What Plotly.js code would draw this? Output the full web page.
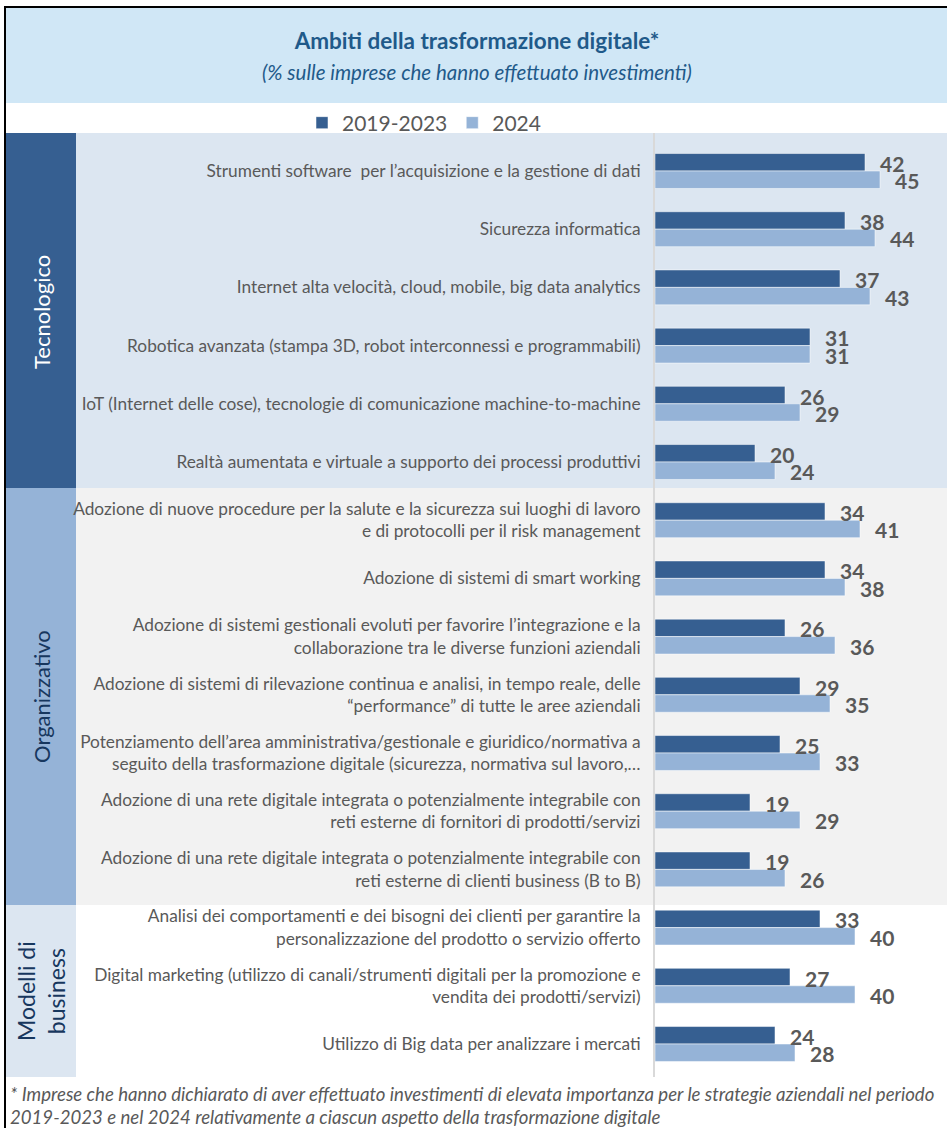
<!DOCTYPE html>
<html>
<head>
<meta charset="utf-8">
<script src="https://cdn.plot.ly/plotly-3.0.1.min.js"></script>
<style>html,body{margin:0;padding:0;background:#fff;}#chart{width:947px;height:1128px;}</style>
</head>
<body>
<div id="chart"></div>
<script>
const categories = [
  "Strumenti software  per l’acquisizione e la gestione di dati",
  "Sicurezza informatica",
  "Internet alta velocità, cloud, mobile, big data analytics",
  "Robotica avanzata (stampa 3D, robot interconnessi e programmabili)",
  "IoT (Internet delle cose), tecnologie di comunicazione machine-to-machine",
  "Realtà aumentata e virtuale a supporto dei processi produttivi",
  "Adozione di nuove procedure per la salute e la sicurezza sui luoghi di lavoro<br>e di protocolli per il risk management",
  "Adozione di sistemi di smart working",
  "Adozione di sistemi gestionali evoluti per favorire l’integrazione e la<br>collaborazione tra le diverse funzioni aziendali",
  "Adozione di sistemi di rilevazione continua e analisi, in tempo reale, delle<br>“performance” di tutte le aree aziendali",
  "Potenziamento dell’area amministrativa/gestionale e giuridico/normativa a<br>seguito della trasformazione digitale (sicurezza, normativa sul lavoro,…",
  "Adozione di una rete digitale integrata o potenzialmente integrabile con<br>reti esterne di fornitori di prodotti/servizi",
  "Adozione di una rete digitale integrata o potenzialmente integrabile con<br>reti esterne di clienti business (B to B)",
  "Analisi dei comportamenti e dei bisogni dei clienti per garantire la<br>personalizzazione del prodotto o servizio offerto",
  "Digital marketing (utilizzo di canali/strumenti digitali per la promozione e<br>vendita dei prodotti/servizi)",
  "Utilizzo di Big data per analizzare i mercati"
];
const values2019_2023 = [42, 38, 37, 31, 26, 20, 34, 34, 26, 29, 25, 19, 19, 33, 27, 24];
const values2024      = [45, 44, 43, 31, 29, 24, 41, 38, 36, 35, 33, 29, 26, 40, 40, 28];
const seriesNames = ["2019-2023", "2024"];
const groups = ["Tecnologico", "Organizzativo", "Modelli di<br>business"];

const W = 947, H = 1128;
const X = p => p / W;
const Y = p => 1 - p / H;
const idx = categories.map((_, i) => i);

const FONT = "Lato, 'Open Sans', sans-serif";
const GRAY = "#595959";
const DARK = "#365f91";
const LIGHT = "#95b3d7";

const traces = [
  {type: "bar", orientation: "h", name: seriesNames[0], y: idx, x: values2019_2023,
   marker: {color: DARK, line: {color: "rgba(255,255,255,0.5)", width: 1}}, hoverinfo: "x"},
  {type: "bar", orientation: "h", name: seriesNames[1], y: idx, x: values2024,
   marker: {color: LIGHT, line: {color: "rgba(255,255,255,0.5)", width: 1}}, hoverinfo: "x"}
];

const annotations = [];
const valueSets = [values2019_2023, values2024];
valueSets.forEach((vals, s) => {
  vals.forEach((v, i) => {
    annotations.push({
      x: v, y: i + (s === 0 ? -0.15 : 0.15), xref: "x", yref: "y",
      text: "<b>" + v + "</b>", showarrow: false, xanchor: "left", yanchor: "middle",
      xshift: 14, yshift: -1, borderpad: 0,
      font: {family: FONT, size: 21, color: GRAY}
    });
  });
});

annotations.push({x: X(477), y: Y(72), xref: "paper", yref: "paper", showarrow: false,
  text: "<i>(% sulle imprese che hanno effettuato investimenti)</i>",
  font: {family: FONT, size: 20.5, color: "#1f5a8a"}, xanchor: "center", yanchor: "middle"});

annotations.push({x: X(41), y: Y(312), xref: "paper", yref: "paper", showarrow: false,
  xanchor: "center", yanchor: "middle",
  text: groups[0], textangle: -90, font: {family: FONT, size: 22, color: "#ffffff"}});
annotations.push({x: X(41), y: Y(697), xref: "paper", yref: "paper", showarrow: false,
  xanchor: "center", yanchor: "middle",
  text: groups[1], textangle: -90, font: {family: FONT, size: 22, color: "#17375e"}});
annotations.push({x: X(41), y: Y(991), xref: "paper", yref: "paper", showarrow: false,
  xanchor: "center", yanchor: "middle",
  text: groups[2], textangle: -90, font: {family: FONT, size: 23, color: "#17375e"}, align: "center"});

annotations.push({x: X(8), y: Y(1094), xref: "paper", yref: "paper", showarrow: false,
  xanchor: "left", yanchor: "middle",
  text: "<i>* Imprese che hanno dichiarato di aver effettuato investimenti di elevata importanza per le strategie aziendali nel periodo</i>",
  font: {family: FONT, size: 18.6, color: GRAY}});
annotations.push({x: X(8), y: Y(1117), xref: "paper", yref: "paper", showarrow: false,
  xanchor: "left", yanchor: "middle",
  text: "<i>2019-2023 e nel 2024 relativamente a ciascun aspetto della trasformazione digitale</i>",
  font: {family: FONT, size: 18.6, color: GRAY}});

function rect(x0, y0, x1, y1, color) {
  return {type: "rect", xref: "paper", yref: "paper", x0: X(x0), x1: X(x1), y0: Y(y1), y1: Y(y0),
          fillcolor: color, line: {width: 0}, layer: "below"};
}
const shapes = [
  rect(6, 8, 947, 103, "#d0e7f6"),
  rect(76, 133, 947, 488, "#dce6f1"),
  rect(76, 488, 947, 905, "#f2f2f2"),
  rect(6, 133, 76, 488, DARK),
  rect(6, 488, 76, 905, LIGHT),
  rect(6, 905, 76, 1077, "#dce6f1"),
  {type: "line", xref: "paper", yref: "paper", x0: X(4), x1: 1, y0: Y(7), y1: Y(7), line: {color: "#000", width: 2}},
  {type: "line", xref: "paper", yref: "paper", x0: X(5), x1: X(5), y0: Y(6), y1: 0, line: {color: "#000", width: 2}}
];

const layout = {
  width: W, height: H,
  margin: {l: 0, r: 0, t: 0, b: 0},
  paper_bgcolor: "#ffffff", plot_bgcolor: "rgba(0,0,0,0)",
  title: {text: "<b>Ambiti della trasformazione digitale*</b>", x: X(477), xanchor: "center",
          y: Y(41), yanchor: "middle", font: {family: FONT, size: 22.5, color: "#1f5a8a"}},
  barmode: "group", bargap: 0.4, bargroupgap: 0,
  xaxis: {domain: [X(655), 1], range: [0, 58.4], showgrid: false, zeroline: false,
          showticklabels: false, showline: false, fixedrange: true},
  yaxis: {domain: [Y(1077), Y(133)], range: [15.567, -0.653], showgrid: false, zeroline: false,
          tickmode: "array", tickvals: idx, ticktext: categories, ticks: "",
          ticklabelstandoff: 9, showline: true, linecolor: "#d9d9d9", linewidth: 2,
          tickfont: {family: FONT, size: 17.3, color: GRAY}, fixedrange: true},
  showlegend: true,
  legend: {orientation: "h", x: X(302), xanchor: "left", y: Y(123), yanchor: "middle",
           bgcolor: "rgba(0,0,0,0)", font: {family: FONT, size: 21, color: GRAY}, traceorder: "normal"},
  annotations: annotations,
  shapes: shapes
};

Plotly.newPlot("chart", traces, layout, {displayModeBar: false, staticPlot: true});
</script>
</body>
</html>
